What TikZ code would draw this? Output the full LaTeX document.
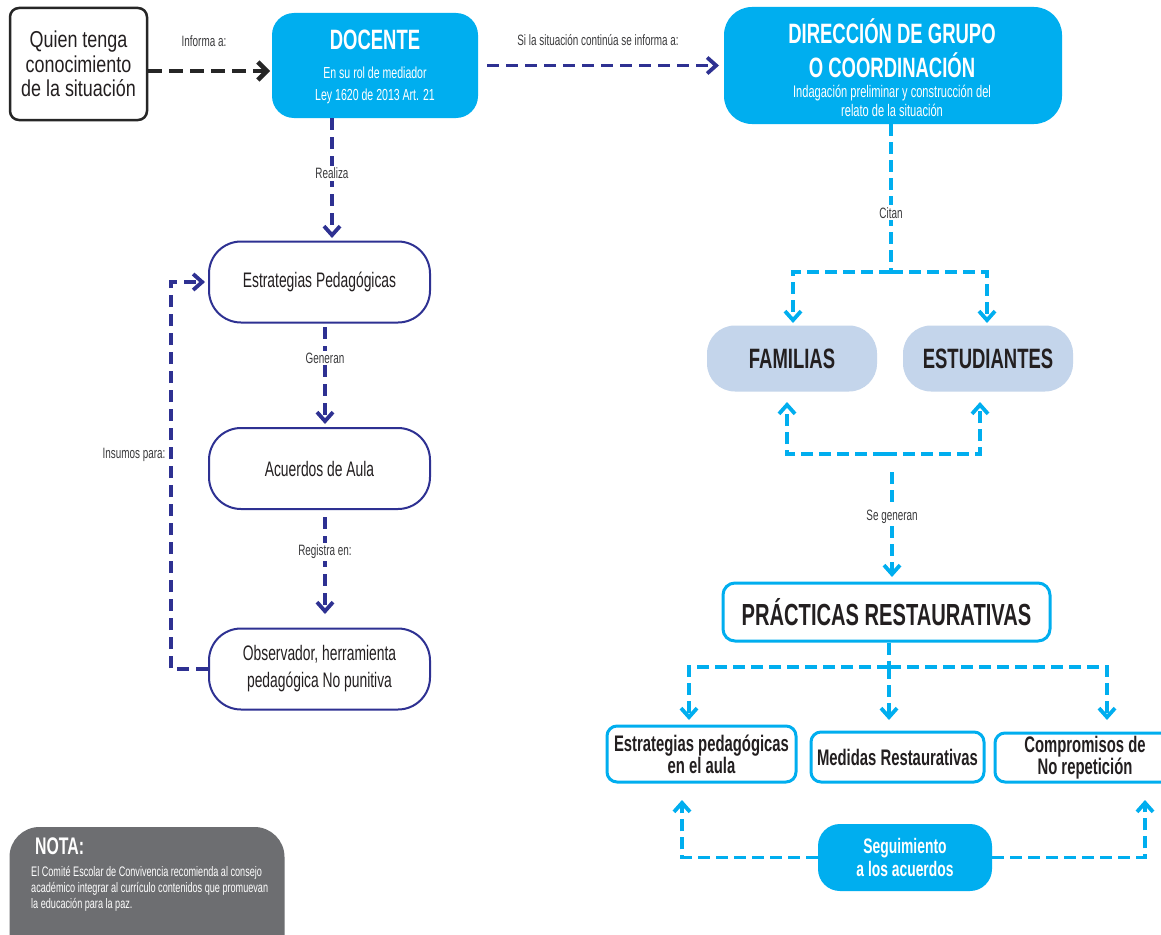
\documentclass[tikz,border=0pt]{standalone}
\usepackage{fontspec}
\setmainfont{Liberation Sans}[FakeStretch=0.66]
\newfontfamily\widefont{Liberation Sans}[FakeStretch=0.78]
\usetikzlibrary{arrows.meta,decorations.markings}
\definecolor{navyc}{HTML}{2E3192}
\definecolor{skyc}{HTML}{00AEEF}
\definecolor{famc}{HTML}{C4D5EB}
\definecolor{notac}{HTML}{6D6E71}
\definecolor{txtc}{HTML}{231F20}
\definecolor{lblc}{HTML}{3A3A3C}
\definecolor{blkc}{HTML}{262626}
\newcommand{\fsz}[2]{\fontsize{#1}{#2}\selectfont}
\begin{document}
\begin{tikzpicture}[x=1pt,y=-1pt,
  cbox/.style={rectangle, inner sep=0pt, align=center, text=txtc},
  navybox/.style={cbox, draw=navyc, line width=2pt, rounded corners=32pt, minimum width=221pt, minimum height=81pt, font=\fsz{21}{27}},
  skybox/.style={cbox, fill=skyc, text=white},
  outbox/.style={cbox, draw=skyc, line width=3pt, rounded corners=10pt, font=\bfseries\fsz{22.5}{19}},
  famboxs/.style={cbox, fill=famc, rounded corners=28pt, minimum width=170pt, minimum height=66pt, font=\bfseries\fsz{28}{28}},
  lbl/.style={fill=white, inner sep=2pt, text=lblc, font=\fsz{15}{16}},
  lblplain/.style={inner sep=0pt, text=lblc, font=\fsz{15}{16}},
  endtip/.style n args={3}{postaction={decorate, decoration={markings,
      mark=at position 1 with {\pgfsetdash{}{0pt}\pgfsetstrokecolor{#1}\arrow[line width=#2]{Straight Barb[length=9pt,width=#3]}}}}},
  navyline/.style={draw=navyc, line width=3.5pt, dash pattern=on 12pt off 7pt, shorten >=2pt},
  navyarrow/.style={navyline, endtip={navyc}{3.8pt}{16pt}},
  blackarrow/.style={draw=blkc, line width=4.5pt, dash pattern=on 14pt off 7pt, shorten >=2pt, endtip={blkc}{4.5pt}{18pt}},
  skyline/.style={draw=skyc, line width=3.5pt, dash pattern=on 12pt off 6pt},
  skyarrow/.style={skyline, shorten >=2pt, endtip={skyc}{3.8pt}{16pt}},
]
\useasboundingbox (0,0) rectangle (1161,934);
\fill[white] (0,0) rectangle (1161,934);

% ---------- top row ----------
\node[cbox, draw=black!85, line width=2.5pt, rounded corners=9pt, minimum width=137pt, minimum height=112pt, font=\widefont\fsz{23}{24.5}] (quien) at (78.5,64) {Quien tenga\\conocimiento\\de la situación};

\node[skybox, rounded corners=22pt, minimum width=206pt, minimum height=105pt] (doc) at (375,65.5) {};
\node[text=white, inner sep=0pt, font=\bfseries\fsz{28}{28}] (doct) at (375,40) {DOCENTE};
\node[text=white, inner sep=0pt, align=center, font=\fsz{16}{22}] (docs) at (375,85) {En su rol de mediador\\Ley 1620 de 2013 Art. 21};

\node[skybox, rounded corners=28pt, minimum width=338pt, minimum height=117pt] (dir) at (893,65.5) {};
\node[text=white, inner sep=0pt, align=center, font=\bfseries\fsz{28}{34}] (dirt) at (892,48) {DIRECCIÓN DE GRUPO\\O COORDINACIÓN};
\node[text=white, inner sep=0pt, align=center, font=\fsz{16.8}{19}] (dirs) at (892,101) {Indagación preliminar y construcción del\\relato de la situación};

\node[lblplain] (linf) at (204,41) {Informa a:};
\node[lblplain] (lsit) at (598,40) {Si la situación continúa se informa a:};

\coordinate (einf) at (270,71);
\coordinate (esit) at (719,65.5);
\draw[blackarrow] ([yshift=-7pt]quien.east) -- (einf);
\draw[navyarrow] ([xshift=9pt]doc.east) -- (esit);

% ---------- left column ----------
\node[navybox] (est) at (319.5,282) {Estrategias Pedagógicas};
\node[navybox] (acu) at (319.5,468.5) {Acuerdos de Aula};
\node[navybox] (obs) at (319.5,669) {Observador, herramienta\\pedagógica No punitiva};

\coordinate (sreal) at (332,118);  \coordinate (ereal) at (332,238);
\coordinate (sgen) at (325,327);   \coordinate (egen) at (325,424);
\coordinate (sreg) at (325,517);   \coordinate (ereg) at (325,614);
\coordinate (eins) at (205,282);
\draw[navyarrow] (sreal) -- (ereal) node[lbl, pos=0.46] {Realiza};
\draw[navyarrow] (sgen) -- (egen) node[lbl, pos=0.32] {Generan};
\draw[navyarrow] (sreg) -- (ereg) node[lbl, pos=0.36] {Registra en:};
\draw[navyarrow] (obs.west) -- ++(-37,0) |- (eins);
\node[lblplain] (lins) at (134,455) {Insumos para:};

% ---------- right column ----------
\node[famboxs] (fam) at (792,358.5) {FAMILIAS};
\node[famboxs] (estu) at (988,358.5) {ESTUDIANTES};

\coordinate (cj) at (891,272);
\coordinate (efam) at (793,323);
\coordinate (eestu) at (987,323);
\draw[skyline] (dir.south -| cj) -- (cj) node[lbl, pos=0.6] {Citan};
\draw[skyarrow] (cj) -| (efam);
\draw[skyarrow] (cj) -| (eestu);

\coordinate (gj) at (885,454);
\coordinate (ufam) at (787,402);
\coordinate (uestu) at (980,402);
\draw[skyarrow] (gj) -| (ufam);
\draw[skyarrow] (gj) -| (uestu);

\node[outbox, rounded corners=12pt, minimum width=327pt, minimum height=58pt, font=\bfseries\fsz{30.5}{30}] (prac) at (886.5,612) {PRÁCTICAS RESTAURATIVAS};

\coordinate (gtop) at (892,472);
\coordinate (eprac) at (892,577);
\draw[skyarrow] (gtop) -- (eprac) node[lbl, pos=0.43] {Se generan};

\node[outbox, minimum width=189pt, minimum height=56pt] (ea) at (701.5,754) {Estrategias pedagógicas\\en el aula};
\node[outbox, minimum width=173pt, minimum height=50pt] (med) at (897.5,757) {Medidas Restaurativas};
\node[outbox, minimum width=180pt, minimum height=49pt] (comp) at (1085,757.5) {Compromisos de\\No repetición};

\coordinate (pj) at (889,667);
\coordinate (eea) at (689,720);
\coordinate (emed) at (889,720);
\coordinate (ecomp) at (1107,720);
\draw[skyline] (prac.south -| pj) -- (pj);
\draw[skyarrow] (pj) -| (eea);
\draw[skyarrow] (pj) -- (emed);
\draw[skyarrow] (pj) -| (ecomp);

\node[skybox, rounded corners=22pt, minimum width=174pt, minimum height=67pt, font=\bfseries\fsz{21}{23}] (seg) at (905,857.5) {Seguimiento\\a los acuerdos};
\coordinate (sl) at (682,800);
\coordinate (sr) at (1145,800);
\draw[skyarrow] (seg.west) -| (sl);
\draw[skyarrow] (seg.east) -| (sr);

% ---------- nota ----------
\node[cbox, fill=notac, rounded corners=30pt, minimum width=275pt, minimum height=140pt] (nota) at (147,897) {};
\node[anchor=west, text=white, inner sep=0pt, font=\bfseries\fsz{24}{24}] (notat) at (35,846) {NOTA:};
\node[anchor=north west, text=white, inner sep=0pt, align=left, font=\fsz{13.8}{16}] (notab) at (31,866) {El Comité Escolar de Convivencia recomienda al consejo\\académico integrar al currículo contenidos que promuevan\\la educación para la paz.};
\end{tikzpicture}
\end{document}
